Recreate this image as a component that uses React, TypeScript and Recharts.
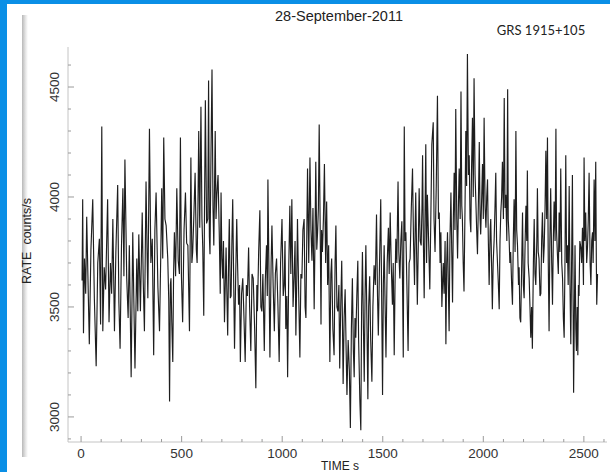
import { LineChart, Line, XAxis, YAxis } from 'recharts';

// light curve in three stretches (time in s, rate in counts/s)
const TIME_A = [5, 8, 12, 17, 23, 28, 34, 41, 49, 58, 66, 75, 83, 91, 97, 103, 108, 115, 122, 132, 139, 146, 152, 158, 166, 173, 182, 188, 194, 201, 208, 213, 218, 227, 234, 240, 249, 257, 262, 268, 277, 282, 287, 295, 304, 309, 315, 323, 328, 332, 340, 347, 354, 361, 367, 373, 382, 390, 397, 401, 406, 411, 417, 423, 431, 436, 440, 444, 447, 451, 456, 460, 464, 470, 476, 483, 489, 494, 499, 505, 512, 519, 525, 531, 539, 546, 551, 555, 561, 567, 573, 577, 581, 585, 590, 596, 601, 605, 610, 614, 618, 624, 630, 634, 638, 641, 646, 651, 656, 660, 667, 671, 675, 681, 687, 692, 696, 700, 704, 708, 713, 721, 725, 729, 734, 737, 742, 746, 750, 754, 759, 763, 769, 774, 778, 783, 788, 792, 798, 804, 810, 816, 822];
const RATE_A = [3620, 3990, 3380, 3720, 3560, 3910, 3640, 3330, 3760, 3990, 3540, 3230, 3700, 3810, 3420, 4320, 3390, 3680, 3580, 3990, 3430, 3700, 3560, 3900, 3390, 3750, 4055, 3520, 3310, 3780, 4040, 3640, 4170, 3630, 3450, 3780, 3180, 3840, 3550, 3220, 3720, 3480, 3830, 3480, 3930, 3620, 3390, 4070, 3760, 3540, 4310, 3700, 3810, 3280, 3850, 4020, 3590, 3390, 3780, 4040, 3720, 4270, 3900, 3870, 3720, 3530, 3070, 3600, 3630, 3430, 3250, 3650, 3840, 3640, 4040, 3710, 3650, 4270, 3640, 3430, 3850, 4020, 3790, 3780, 3390, 4180, 3700, 3750, 3920, 4110, 3760, 3700, 3950, 4300, 3860, 4410, 3900, 3770, 3460, 3970, 4440, 3880, 3900, 4530, 3820, 3740, 4200, 4580, 3950, 3780, 4300, 3900, 4010, 4100, 3840, 3560, 4020, 3720, 3630, 3800, 3430, 3770, 3560, 3370, 3750, 3900, 3540, 3550, 3800, 3990, 3600, 3310, 3650, 3900, 3700, 3510, 3600, 3250, 3560, 3630, 3450, 3250, 3600];

const TIME_B = [827, 833, 838, 844, 850, 856, 863, 869, 874, 877, 883, 889, 894, 899, 904, 911, 916, 922, 926, 929, 935, 939, 945, 949, 955, 961, 966, 972, 979, 985, 992, 999, 1005, 1010, 1014, 1018, 1023, 1027, 1033, 1038, 1043, 1048, 1054, 1059, 1064, 1068, 1072, 1076, 1082, 1088, 1093, 1098, 1103, 1109, 1114, 1118, 1122, 1126, 1132, 1138, 1143, 1148, 1153, 1159, 1163, 1167, 1172, 1176, 1180, 1184, 1189, 1193, 1196, 1200, 1205, 1210, 1216, 1221, 1226, 1231, 1237, 1242, 1246, 1252, 1258, 1263, 1267, 1272, 1277, 1282, 1286, 1291, 1296, 1300, 1303, 1308, 1313, 1318, 1322, 1328, 1334, 1339, 1344, 1349, 1354, 1358, 1362, 1366, 1371, 1376, 1380, 1386, 1391, 1395, 1399, 1404, 1408, 1412, 1416, 1421, 1426, 1430, 1435, 1440, 1446, 1451, 1457, 1463, 1469, 1474, 1478, 1484, 1490, 1494, 1499, 1503, 1507, 1511, 1516, 1522, 1528, 1532, 1537, 1542, 1548, 1552, 1557, 1561, 1565, 1570, 1576, 1580, 1585, 1590, 1595, 1599, 1602, 1607, 1611, 1615, 1620, 1626, 1631, 1636, 1642, 1648, 1653, 1658, 1661, 1664, 1669, 1672, 1677, 1681, 1686, 1691, 1695, 1698, 1702, 1706, 1710, 1714];
const RATE_B = [3550, 3770, 3500, 3300, 3650, 3630, 3400, 3130, 3600, 3480, 3750, 3940, 3500, 3480, 3650, 3300, 3620, 3780, 3550, 4080, 3600, 3270, 3700, 3870, 3600, 3390, 3650, 3720, 3500, 3250, 3700, 3900, 3550, 3600, 3800, 3400, 3550, 3180, 3700, 3960, 3650, 3990, 3500, 3630, 3800, 3370, 3600, 3900, 3560, 3270, 3650, 3630, 3850, 3900, 3500, 3450, 3800, 4130, 3700, 4180, 3850, 3710, 3950, 3490, 3800, 4160, 3760, 3840, 3950, 4330, 3850, 3420, 3850, 3750, 3900, 4150, 3700, 3980, 3600, 3780, 3250, 3650, 3720, 3400, 3280, 3700, 3870, 3500, 3480, 3600, 3220, 3500, 3710, 3400, 3150, 3450, 3580, 3300, 3100, 3350, 3210, 2950, 3400, 3630, 3300, 3180, 3450, 3360, 3550, 3710, 3350, 3080, 2940, 3500, 3750, 3400, 3160, 3550, 3780, 3450, 3080, 3500, 3640, 3350, 3160, 3500, 3690, 3600, 3920, 3550, 3370, 3700, 3990, 3600, 3100, 3600, 3780, 3550, 3270, 3700, 3860, 3650, 3930, 3700, 3510, 3700, 3280, 3600, 3810, 3700, 4070, 3750, 3630, 3800, 3890, 3550, 3270, 4320, 3800, 3840, 3600, 3300, 3700, 3720, 3950, 4130, 3800, 3600, 3850, 4020, 3700, 3510, 3800, 4040, 3800, 3780, 3950, 4190, 3800, 3540, 3900, 4240];

const TIME_C = [1718, 1722, 1728, 1734, 1739, 1744, 1751, 1755, 1760, 1766, 1772, 1777, 1781, 1785, 1789, 1794, 1798, 1801, 1805, 1810, 1814, 1818, 1822, 1826, 1830, 1834, 1839, 1843, 1847, 1851, 1855, 1859, 1863, 1868, 1872, 1876, 1880, 1885, 1889, 1893, 1896, 1900, 1904, 1909, 1913, 1917, 1921, 1926, 1930, 1934, 1938, 1941, 1946, 1950, 1954, 1959, 1963, 1967, 1971, 1976, 1980, 1984, 1987, 1992, 1996, 2000, 2004, 2009, 2013, 2017, 2021, 2025, 2029, 2034, 2037, 2041, 2045, 2049, 2054, 2058, 2062, 2066, 2071, 2075, 2079, 2083, 2087, 2091, 2095, 2100, 2104, 2108, 2112, 2117, 2121, 2124, 2128, 2132, 2136, 2141, 2145, 2149, 2153, 2158, 2162, 2166, 2170, 2175, 2178, 2182, 2186, 2191, 2195, 2199, 2203, 2208, 2212, 2216, 2219, 2223, 2228, 2232, 2236, 2240, 2244, 2249, 2253, 2257, 2261, 2266, 2269, 2273, 2277, 2282, 2286, 2290, 2294, 2299, 2303, 2307, 2311, 2315, 2319, 2323, 2327, 2331, 2335, 2340, 2344, 2348, 2352, 2357, 2361, 2364, 2368, 2373, 2377, 2381, 2385, 2390, 2394, 2398, 2402, 2406, 2410, 2414, 2418, 2422, 2427, 2431, 2435, 2439, 2443, 2446, 2449, 2453, 2456, 2460, 2463, 2467, 2470, 2473, 2476, 2480, 2485, 2489, 2493, 2498, 2501, 2505, 2509, 2514, 2518, 2522, 2526, 2531, 2535, 2539, 2543, 2546, 2551, 2555, 2559, 2562, 2564, 2568];
const RATE_C = [3700, 4010, 3800, 3580, 3900, 4240, 4340, 3900, 3750, 4050, 4460, 3900, 3930, 3700, 3840, 3500, 3630, 3700, 3560, 3800, 3330, 3700, 3840, 3600, 3390, 3800, 4020, 3750, 3520, 3900, 4110, 3850, 4400, 3900, 3720, 3950, 4130, 3900, 4480, 3960, 3900, 3700, 3570, 3950, 4300, 4050, 4650, 4100, 4190, 3900, 3840, 4100, 4360, 4000, 4540, 4100, 3980, 3850, 3740, 4000, 4250, 3900, 3830, 4000, 4150, 3900, 4360, 3950, 3860, 4000, 4080, 3800, 3600, 3850, 3900, 3700, 3490, 3700, 3810, 3950, 4110, 3800, 3690, 3600, 3490, 3800, 3930, 4000, 4160, 3900, 4450, 3950, 4010, 3800, 4490, 3900, 3820, 3700, 3750, 3600, 3510, 3800, 3990, 3750, 4300, 3850, 3780, 3600, 3680, 3450, 3430, 3700, 3930, 3600, 3540, 3800, 3960, 3800, 4120, 3700, 3630, 3500, 3360, 3500, 3310, 3700, 3900, 3650, 3600, 3800, 4040, 3750, 3720, 3550, 3560, 3800, 3930, 3700, 3780, 3950, 4210, 3900, 4270, 3700, 3390, 3800, 4040, 3700, 3510, 3800, 3980, 3800, 4310, 3850, 3750, 3650, 3930, 3750, 4130, 3700, 3630, 3450, 3360, 3700, 4190, 3700, 3780, 3600, 4050, 3600, 3330, 3700, 4100, 3600, 3110, 3500, 3780, 3400, 3300, 3500, 3280, 3600, 3550, 3800, 3770, 3700, 3860, 3600, 4180, 3800, 3930, 3700, 3770, 3900, 4110, 3700, 3600, 3800, 3840, 3700, 4080, 3800, 4160, 3700, 3510, 3650];

const X_TICKS = [0, 100, 200, 300, 400, 500, 600, 700, 800, 900, 1000, 1100, 1200, 1300, 1400, 1500, 1600, 1700, 1800, 1900, 2000, 2100, 2200, 2300, 2400, 2500, 2600];
const Y_TICKS = [2900, 3000, 3100, 3200, 3300, 3400, 3500, 3600, 3700, 3800, 3900, 4000, 4100, 4200, 4300, 4400, 4500, 4600];

const TIME = [...TIME_A, ...TIME_B, ...TIME_C];
const RATE = [...RATE_A, ...RATE_B, ...RATE_C];
const data = TIME.map((t, i) => ({ t, rate: RATE[i] }));

const FONT = '"Liberation Sans", Arial, sans-serif';
const TICK_COLOR = '#9a9a9a';
const FRAME = '#c4c4c4';

const BottomTick = ({ x, y, payload }: any) => {
  const major = payload.value % 500 === 0;
  return (
    <g>
      <line x1={x} x2={x} y1={y} y2={y - (major ? 6 : 3)} stroke={TICK_COLOR} />
      {major && (
        <text x={x} y={y + 16} textAnchor="middle" fontSize={13.5} fontFamily={FONT} fill="#333">
          {payload.value}
        </text>
      )}
    </g>
  );
};

const TopTick = ({ x, y, payload }: any) => {
  const major = payload.value % 500 === 0;
  return <line x1={x} x2={x} y1={y} y2={y + (major ? 6 : 3)} stroke={TICK_COLOR} />;
};

const LeftTick = ({ x, y, payload }: any) => {
  const major = payload.value % 500 === 0;
  return (
    <g>
      <line x1={x} x2={x + (major ? 6 : 3)} y1={y} y2={y} stroke={TICK_COLOR} />
      {major && (
        <text
          x={55}
          y={y}
          transform={`rotate(-90 55 ${y})`}
          textAnchor="middle"
          dominantBaseline="central"
          fontSize={13.5}
          fontFamily={FONT}
          fill="#333"
        >
          {payload.value}
        </text>
      )}
    </g>
  );
};

const RightTick = ({ x, y, payload }: any) => {
  const major = payload.value % 500 === 0;
  return <line x1={x} x2={x - (major ? 6 : 3)} y1={y} y2={y} stroke={TICK_COLOR} />;
};

export default function App() {
  return (
    <div style={{ position: 'absolute', left: 0, top: 0, width: 610, height: 472, background: '#0a8fe6', overflow: 'hidden' }}>
      <div style={{ position: 'absolute', left: 7, top: 4, width: 603, height: 468, background: '#fff' }} />
      <div
        style={{
          position: 'absolute',
          left: 22,
          top: 15,
          width: 6,
          height: 442,
          background: 'linear-gradient(to right, #b8b8b8, #e6e6e6 60%, #ffffff)',
        }}
      />
      <div style={{ position: 'absolute', left: 0, top: 0 }}>
        <LineChart width={610} height={472} data={data} margin={{ top: 47, right: 3, bottom: 0, left: 0 }}>
          <XAxis
            xAxisId="b"
            dataKey="t"
            type="number"
            domain={[-65, 2615]}
            allowDataOverflow
            ticks={X_TICKS}
            interval={0}
            height={30}
            tickSize={0}
            tickMargin={0}
            tickLine={false}
            axisLine={{ stroke: FRAME }}
            tick={<BottomTick />}
          />
          <XAxis
            xAxisId="t"
            orientation="top"
            dataKey="t"
            type="number"
            domain={[-65, 2615]}
            allowDataOverflow
            ticks={X_TICKS}
            interval={0}
            height={0}
            tickSize={0}
            tickMargin={0}
            tickLine={false}
            axisLine={{ stroke: FRAME }}
            tick={<TopTick />}
          />
          <YAxis
            yAxisId="l"
            type="number"
            domain={[2886, 4682]}
            allowDataOverflow
            ticks={Y_TICKS}
            interval={0}
            width={68}
            tickSize={0}
            tickMargin={0}
            tickLine={false}
            axisLine={{ stroke: FRAME }}
            tick={<LeftTick />}
          />
          <YAxis
            yAxisId="r"
            orientation="right"
            type="number"
            domain={[2886, 4682]}
            allowDataOverflow
            ticks={Y_TICKS}
            interval={0}
            width={0}
            tickSize={0}
            tickMargin={0}
            tickLine={false}
            axisLine={{ stroke: FRAME }}
            tick={<RightTick />}
          />
          <Line
            xAxisId="b"
            yAxisId="l"
            type="linear"
            dataKey="rate"
            stroke="#1e1e1e"
            strokeWidth={1.15}
            dot={false}
            isAnimationActive={false}
          />
        </LineChart>
      </div>
      <svg width={610} height={472} style={{ position: 'absolute', left: 0, top: 0, pointerEvents: 'none' }}>
        <text x={339} y={21} textAnchor="middle" fontSize={14.5} fontFamily={FONT} fill="#222">
          28-September-2011
        </text>
        <text x={541} y={35} textAnchor="middle" fontSize={13} fontFamily="Lato, sans-serif" fill="#222">
          GRS 1915+105
        </text>
        <text
          x={31}
          y={241}
          transform="rotate(-90 31 241)"
          textAnchor="middle"
          fontSize={12.5}
          fontFamily={FONT}
          fill="#222"
          style={{ whiteSpace: 'pre' }}
        >
          {'RATE  counts/s'}
        </text>
        <text x={340} y={470} textAnchor="middle" fontSize={12} fontFamily={FONT} fill="#222">
          TIME s
        </text>
      </svg>
    </div>
  );
}
